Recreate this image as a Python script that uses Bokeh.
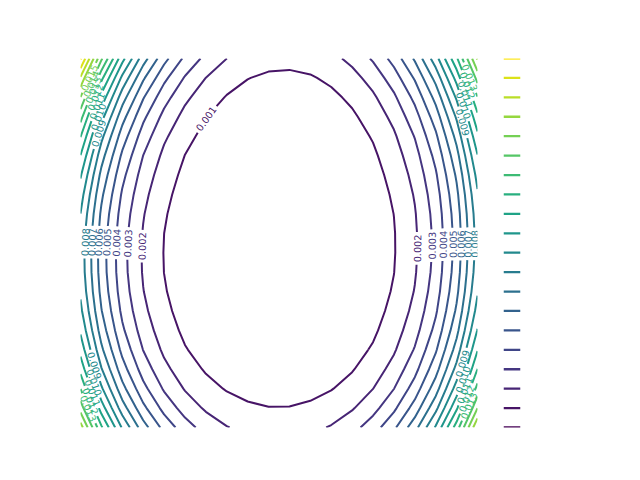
import numpy as np
import contourpy
from bokeh.plotting import figure
from bokeh.layouts import row
from bokeh.embed import file_html
from bokeh.resources import INLINE
from bokeh.core.properties import value
from bokeh.palettes import Viridis256

# ---- data ----
levels = [0.000, 0.001, 0.002, 0.003, 0.004, 0.005, 0.006, 0.007, 0.008, 0.009,
          0.010, 0.011, 0.012, 0.013, 0.014, 0.015, 0.016, 0.017, 0.018, 0.019]
grid_x = np.linspace(-1.0, 1.0, 20)
grid_y = np.linspace(-1.0, 1.0, 20)
# field: a*u^4 + b*u^2*(v-v1)^2 + c*(v-v2)^4
coef_quartic = [0.0085, 0.0072, 0.00141]
centre_u = [0.003, 0.0175, 0.010]     # centre of u as polynomial in y
centre_v = [-0.04, 0.026]             # v1 (cross term), v2 (v^4 term)

X, Y = np.meshgrid(grid_x, grid_y)
U = X - (centre_u[0] + centre_u[1] * Y + centre_u[2] * Y**2)
Z = (coef_quartic[0] * U**4
     + coef_quartic[1] * U**2 * (Y - centre_v[0])**2
     + coef_quartic[2] * (Y - centre_v[1])**4)

n_lev = len(levels)
colors = [Viridis256[min(int(k / (n_lev - 1) * 256), 255)] for k in range(n_lev)]

W_MAIN, H = 480, 480
BL, BR, BT, BB = 80, 3, 58, 53
fw, fh = W_MAIN - BL - BR, H - BT - BB
sx = fw / (grid_x[-1] - grid_x[0])
sy = fh / (grid_y[-1] - grid_y[0])

FS = 9.7
def text_width(t):
    return sum(0.318 * FS if ch == "." else 0.636 * FS for ch in t)

def sub_path(px, py, s, a, b):
    if b <= a:
        return None
    inside = (s > a) & (s < b)
    xs = [np.interp(a, s, px)] + list(px[inside]) + [np.interp(b, s, px)]
    ys = [np.interp(a, s, py)] + list(py[inside]) + [np.interp(b, s, py)]
    return np.array(xs), np.array(ys)

gen = contourpy.contour_generator(X, Y, Z, name="serial", line_type="Separate")

line_xs, line_ys, line_cols = [], [], []
lab_x, lab_y, lab_t, lab_a, lab_c = [], [], [], [], []
loop_dir = (-0.84, 0.54)

for k, lev in enumerate(levels):
    col = colors[k]
    txt = f"{lev:.3f}"
    lw = text_width(txt)
    for line in gen.lines(lev):
        if len(line) < 2:
            continue
        closed = np.allclose(line[0], line[-1])
        px = line[:, 0] * sx
        py = line[:, 1] * sy
        if closed:
            i = int(np.argmax(loop_dir[0] * px + loop_dir[1] * py))
            m = len(line) - 1
            start = (i + m // 2) % m
            ring = np.roll(line[:-1], -start, axis=0)
            line = np.vstack([ring, ring[:1]])
            px = line[:, 0] * sx
            py = line[:, 1] * sy
        seg = np.hypot(np.diff(px), np.diff(py))
        s = np.concatenate([[0.0], np.cumsum(seg)])
        L = s[-1]
        ext = max(np.ptp(px), np.ptp(py))
        if ext > 1.2 * lw:
            if closed:
                s0 = s[int(np.argmax(loop_dir[0] * px + loop_dir[1] * py))]
            else:
                s0 = L / 2
            xl = np.interp(s0, s, px) / sx
            yl = np.interp(s0, s, py) / sy
            xa, ya = np.interp(s0 - lw / 2, s, px), np.interp(s0 - lw / 2, s, py)
            xb, yb = np.interp(s0 + lw / 2, s, px), np.interp(s0 + lw / 2, s, py)
            ang = np.degrees(np.arctan2(yb - ya, xb - xa))
            if ang > 90:
                ang -= 180
            elif ang <= -90:
                ang += 180
            lab_x.append(xl); lab_y.append(yl); lab_t.append(txt)
            lab_a.append(np.radians(ang)); lab_c.append(col)
            gap = lw / 2 + 2.5
            for a, b in ((0.0, s0 - gap), (s0 + gap, L)):
                piece = sub_path(px, py, s, a, b)
                if piece is not None:
                    line_xs.append(piece[0] / sx); line_ys.append(piece[1] / sy)
                    line_cols.append(col)
        else:
            line_xs.append(line[:, 0]); line_ys.append(line[:, 1]); line_cols.append(col)

p = figure(width=W_MAIN, height=H, x_range=(grid_x[0], grid_x[-1]),
           y_range=(grid_y[0], grid_y[-1]), output_backend="svg",
           toolbar_location=None, x_axis_location=None, y_axis_location=None,
           min_border_left=BL, min_border_right=BR, min_border_top=BT,
           min_border_bottom=BB)
p.grid.visible = False
p.outline_line_color = None
p.background_fill_color = "white"
p.border_fill_color = "white"

p.multi_line(xs=line_xs, ys=line_ys, line_color=line_cols, line_width=2)
p.text(x=lab_x, y=lab_y, text=lab_t, angle=lab_a, text_color=lab_c,
       text_font=value("DejaVu Sans"), text_font_size=f"{FS}px",
       text_align="center", text_baseline="middle")

# ---- colour bar (line contour style) ----
cb = figure(width=640 - W_MAIN, height=H, x_range=(0, 1),
            y_range=(levels[0], levels[-1]), output_backend="svg",
            toolbar_location=None, x_axis_location=None, y_axis_location=None,
            min_border_left=23, min_border_right=120, min_border_top=57,
            min_border_bottom=53)
cb.grid.visible = False
cb.outline_line_color = None
cb.segment(x0=0, x1=1, y0=levels, y1=levels, line_color=colors, line_width=2.3)

layout = row(p, cb, spacing=0)
open("out.html", "w").write(file_html(layout, INLINE))
